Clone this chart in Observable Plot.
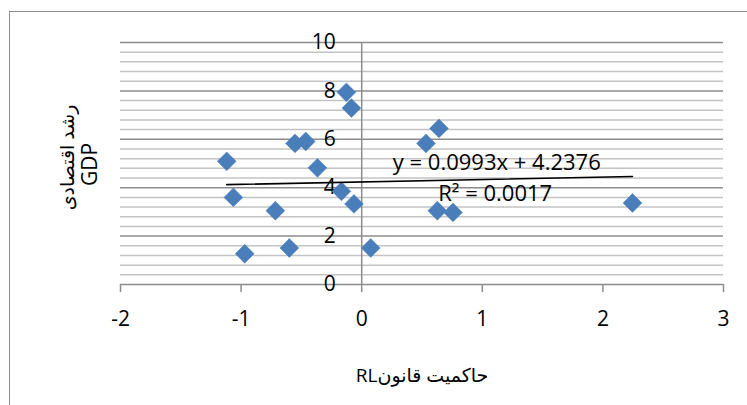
<!DOCTYPE html>
<html>
<head>
<meta charset="utf-8">
<script src="https://cdn.jsdelivr.net/npm/d3@7"></script>
<script src="https://cdn.jsdelivr.net/npm/@observablehq/plot@0.6"></script>
<style>
  html, body { margin: 0; padding: 0; background: #fff; overflow: hidden; }
  #wrap { position: relative; width: 747px; height: 405px; overflow: hidden; }
  #border { position: absolute; left: 9px; top: 11px; width: 800px; height: 500px;
            border: 1.5px solid #8c8c8c; pointer-events: none; }
</style>
</head>
<body>
<div id="wrap"><div id="border"></div></div>
<script>
// Data
const rlValues  = [-1.119, -1.064, -0.716, -0.970, -0.600, -0.367, -0.168, -0.064, -0.553, -0.464, -0.127, -0.085, 0.641, 0.533, 0.627, 0.757, 2.245, 0.075];
const gdpValues = [ 5.09,   3.60,   3.05,   1.27,   1.51,   4.82,   3.85,   3.33,   5.83,   5.91,   7.94,   7.29,  6.45,  5.83,  3.05,  2.98,  3.37,  1.51];
const xTicks = [-2, -1, 0, 1, 2, 3];
const yTicks = [0, 2, 4, 6, 8, 10];
const yMinorTicks = [0.4, 0.8, 1.2, 1.6, 2.4, 2.8, 3.2, 3.6, 4.4, 4.8, 5.2, 5.6, 6.4, 6.8, 7.2, 7.6, 8.4, 8.8, 9.2, 9.6];
const trendSlope = 0.0993;
const trendIntercept = 4.2376;
const trendRange = [-1.119, 2.245];
const equationLabels = ["y = 0.0993x + 4.2376", "R² = 0.0017"];
const equationX = [1.12, 1.107];
const equationY = [5.03, 3.76];
const xTitle = "حاکمیت قانونRL";
const yTitleLine1 = "رشد اقتصادی";
const yTitleLine2 = "GDP";

const points = rlValues.map((x, i) => ({x, y: gdpValues[i]}));
const trend = trendRange.map(x => ({x, y: trendSlope * x + trendIntercept}));
const eq = equationLabels.map((t, i) => ({t, x: equationX[i], y: equationY[i]}));

const font = "'Open Sans', 'DejaVu Sans', sans-serif";

const chart = Plot.plot({
  width: 747,
  height: 405,
  marginLeft: 120,
  marginRight: 24,
  marginTop: 42,
  marginBottom: 121,
  style: {fontFamily: font, fontSize: "21px", background: "transparent", color: "black"},
  x: {domain: [-2, 3]},
  y: {domain: [0, 10], axis: null},
  marks: [
    Plot.ruleY(yMinorTicks, {stroke: "#c3c3c3", strokeWidth: 1.5}),
    Plot.ruleY(yTicks.filter(d => d > 0), {stroke: "#8c8c8c", strokeWidth: 1.5}),
    Plot.ruleX([0], {y1: 0, y2: 10, stroke: "#8c8c8c", strokeWidth: 1.5}),
    Plot.ruleY([0], {stroke: "#8c8c8c", strokeWidth: 1.5}),
    Plot.axisX(xTicks, {tickSize: 8, tickPadding: 19, stroke: "#8c8c8c", strokeWidth: 1.5, fill: "black", fontSize: 21, label: null, tickFormat: d => d < 0 ? "-" + Math.abs(d) : String(d)}),
    Plot.text(yTicks, {x: 0, y: d => d, dx: -26, textAnchor: "end", fontSize: 21, fill: "black"}),
    Plot.dot(points, {x: "x", y: "y", symbol: "diamond2", r: 8.5, fill: "#4a7ebb", stroke: "#4a7ebb", strokeWidth: 0.5}),
    Plot.line(trend, {x: "x", y: "y", stroke: "black", strokeWidth: 1.6}),
    Plot.text(eq, {x: "x", y: "y", text: "t", fontSize: 22, fill: "black"}),
    Plot.text([xTitle], {frameAnchor: "bottom", dy: 97, fontSize: 19, fill: "black"}),
    Plot.text([yTitleLine1], {frameAnchor: "left", textAnchor: "middle", dx: -53, dy: -6, rotate: -90, fontSize: 19, fill: "black"}),
    Plot.text([yTitleLine2], {frameAnchor: "left", textAnchor: "middle", dx: -30, dy: 1, rotate: -90, fontSize: 21, fill: "black"})
  ]
});
document.getElementById("wrap").prepend(chart);
// Right-to-left paragraph direction for the mixed Persian/Latin x title
d3.select(chart).selectAll("text").filter(function() {
  return this.textContent === xTitle;
}).attr("direction", "rtl").attr("unicode-bidi", "embed");
</script>
</body>
</html>
